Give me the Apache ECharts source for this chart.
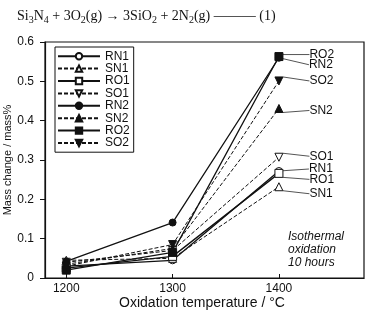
<!DOCTYPE html>
<html>
<head>
<meta charset="utf-8">
<script src="https://cdn.jsdelivr.net/npm/echarts@6/dist/echarts.min.js"></script>
<style>
  html, body { margin: 0; padding: 0; background: #fff; }
  #chart { width: 365px; height: 310px; }
</style>
</head>
<body>
<div id="chart"></div>
<script>
const temps = [1200, 1300, 1400];
const xTicks = [1200, 1300, 1400];
const seriesNames = ["RN1", "SN1", "RO1", "SO1", "RN2", "SN2", "RO2", "SO2"];
const rn1 = [0.030, 0.045, 0.272];
const sn1 = [0.045, 0.050, 0.232];
const ro1 = [0.025, 0.055, 0.266];
const so1 = [0.040, 0.070, 0.307];
const rn2 = [0.042, 0.141, 0.560];
const sn2 = [0.035, 0.075, 0.431];
const ro2 = [0.020, 0.065, 0.563];
const so2 = [0.030, 0.085, 0.501];
const yTicks = [0, 0.1, 0.2, 0.3, 0.4, 0.5, 0.6];

const INK = "#111";
const FONT = "Liberation Sans";

// marker + line style per series, label shift at 1400
const styles = {
  RN1: { symbol: "circle", open: true, dashed: false, dy: -2 },
  SN1: { symbol: "triangle", open: true, dashed: true, dy: 7 },
  RO1: { symbol: "rect", open: true, dashed: false, dy: 6 },
  SO1: { symbol: "triangle", rotate: 180, open: true, dashed: true, dy: -1 },
  RN2: { symbol: "circle", open: false, dashed: false, dy: 7 },
  SN2: { symbol: "triangle", open: false, dashed: true, dy: 2 },
  RO2: { symbol: "rect", open: false, dashed: false, dy: -2 },
  SO2: { symbol: "triangle", rotate: 180, open: false, dashed: true, dy: 0 },
};
const values = { RN1: rn1, SN1: sn1, RO1: ro1, SO1: so1, RN2: rn2, SN2: sn2, RO2: ro2, SO2: so2 };

function makeSeries(name) {
  let s = styles[name];
  let last = temps.length - 1;
  let data = temps.map((t, i) => {
    let item = { value: [t, values[name][i]] };
    if (i === last) {
      item.label = { show: true };
      item.labelLine = { show: true };
    }
    return item;
  });
  return {
    name: name,
    type: "line",
    data: data,
    symbol: s.symbol,
    symbolRotate: s.rotate || 0,
    symbolSize: s.symbol === "circle" ? 7 : 8,
    lineStyle: { color: INK, width: s.dashed ? 1 : 1.3, type: s.dashed ? [4, 2] : "solid" },
    itemStyle: { color: s.open ? "#fff" : INK, borderColor: INK, borderWidth: 1 },
    label: {
      show: false,
      formatter: name,
      position: "right",
      distance: 4,
      color: INK,
      fontFamily: FONT,
      fontSize: 12,
    },
    labelLayout: { dx: 22, dy: s.dy },
    labelLine: { show: false, lineStyle: { color: "#555", width: 1 } },
    emphasis: { disabled: true },
    animation: false,
  };
}

let myChart = echarts.init(document.getElementById("chart"));

let option = {
  animation: false,
  backgroundColor: "#fff",
  title: {
    left: 12,
    top: 2,
    text: "{n|Si}{s|3}{n|N}{s|4}{n| + 3O}{s|2}{n|(g) → 3SiO}{s|2}{n| + 2N}{s|2}{n|(g) ——— (1)}",
    textStyle: {
      fontWeight: "normal",
      rich: {
        n: { fontFamily: "Liberation Serif", fontWeight: "normal", fontSize: 14, color: INK, lineHeight: 18, verticalAlign: "middle" },
        s: { fontFamily: "Liberation Serif", fontWeight: "normal", fontSize: 10, color: INK, lineHeight: 10, verticalAlign: "bottom" },
      },
    },
  },
  legend: {
    orient: "vertical",
    left: 55,
    top: 47,
    padding: [3, 4, 3, 2],
    itemGap: 0,
    itemWidth: 42,
    itemHeight: 8,
    borderColor: INK,
    borderWidth: 1,
    backgroundColor: "#fff",
    textStyle: { color: INK, fontFamily: FONT, fontSize: 12, lineHeight: 12.4, padding: [0, 0, 0, 0] },
    data: seriesNames,
  },
  grid: {
    left: 45,
    right: 1,
    top: 42,
    bottom: 32,
    containLabel: false,
    outerBoundsMode: "none",
    show: true,
    borderColor: INK,
    borderWidth: 1.2,
  },
  xAxis: {
    type: "value",
    min: 1180,
    max: 1480,
    name: "Oxidation temperature / °C",
    nameLocation: "middle",
    nameGap: 18,
    nameMoveOverlap: false,
    nameTextStyle: { color: INK, fontFamily: FONT, fontSize: 14, padding: [0, 5, 0, 0] },
    axisLine: { lineStyle: { color: INK, width: 1.2 } },
    axisTick: { inside: true, length: 4, customValues: xTicks, lineStyle: { color: INK } },
    axisLabel: {
      color: INK,
      fontFamily: FONT,
      fontSize: 12,
      margin: 5,
      customValues: xTicks,
      formatter: (v) => String(v),
    },
    splitLine: { show: false },
  },
  yAxis: {
    type: "value",
    min: 0,
    max: 0.6,
    interval: 0.1,
    name: "Mass change / mass%",
    nameLocation: "middle",
    nameGap: 32,
    nameMoveOverlap: false,
    nameTextStyle: { color: INK, fontFamily: FONT, fontSize: 11 },
    axisLine: { lineStyle: { color: INK, width: 1.2 } },
    axisTick: { length: 5, lineStyle: { color: INK } },
    axisLabel: {
      color: INK,
      fontFamily: FONT,
      fontSize: 12,
      margin: 11,
      formatter: (v) => {
        let t = yTicks.find((y) => Math.abs(y - v) < 1e-6);
        return t === 0 ? "0" : t.toFixed(1);
      },
    },
    splitLine: { show: false },
  },
  graphic: [
    {
      type: "text",
      left: 288,
      top: 230,
      style: {
        text: "Isothermal\noxidation\n10 hours",
        fill: INK,
        font: "italic 12px Liberation Sans",
        lineHeight: 13,
      },
    },
  ],
  series: seriesNames.map(makeSeries),
};

option && myChart.setOption(option);
</script>
</body>
</html>
